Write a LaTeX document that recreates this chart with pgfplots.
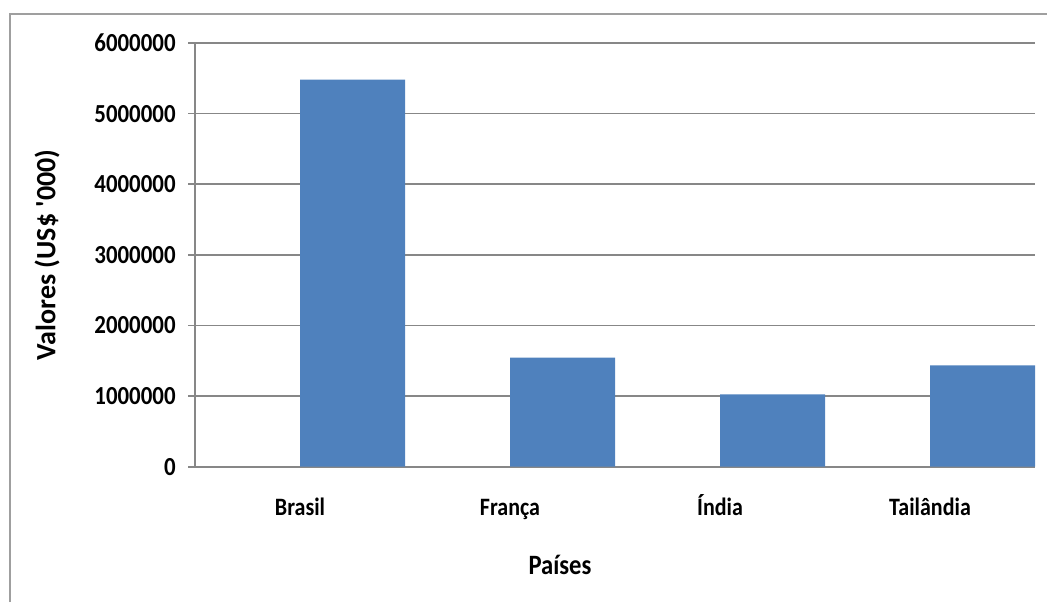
\documentclass[border=0pt]{standalone}
\usepackage{fontspec}
\setmainfont{Carlito}
\newfontfamily\condfont[FakeStretch=0.88]{Carlito}
\usepackage{pgfplots}
\pgfplotsset{compat=1.18}
\definecolor{excelblue}{HTML}{4F81BD}
\definecolor{gridgray}{HTML}{878787}
\begin{document}
\begin{tikzpicture}
\useasboundingbox (0,0) rectangle (523.5pt,301pt);
\draw[gridgray!80, line width=0.8pt] (5pt,0) -- (5pt,294pt) -- (523.5pt,294pt);
\begin{axis}[
  at={(97.5pt,67.65pt)}, anchor=south west,
  scale only axis, width=420pt, height=211.85pt,
  xmin=-0.5, xmax=3.5, ymin=0, ymax=6000000,
  ytick={0,1000000,2000000,3000000,4000000,5000000,6000000},
  scaled y ticks=false,
  /pgf/number format/.cd, 1000 sep={}, fixed, assume math mode=true, /pgfplots/.cd,
  xtick={0,1,2,3},
  xticklabels={Brasil,França,Índia,Tailândia},
  axis x line*=bottom, axis y line*=left,
  axis line style={gridgray, line width=0.8pt, -},
  ymajorgrids, grid style={gridgray, line width=0.8pt},
  tick align=outside, major tick length=3.5pt,
  y tick style={gridgray, line width=0.8pt},
  x tick style={draw=none},
  yticklabel style={font=\condfont\bfseries\fontsize{13}{15}\selectfont, inner sep=0pt, xshift=-6pt},
  xticklabel style={font=\condfont\bfseries\fontsize{12.5}{15}\selectfont, anchor=north, inner sep=0pt, text height=8.5pt, text depth=2.5pt, yshift=-12pt},
  xlabel={Países},
  ylabel={Valores (US\$ \textquotesingle 000)},
  xlabel style={font=\condfont\bfseries\fontsize{14}{16}\selectfont, at={(axis description cs:0.4345,-0.232)}, anchor=center},
  ylabel style={font=\bfseries\fontsize{14}{16}\selectfont, at={(axis description cs:-0.1762,0.5)}, anchor=center, rotate=0},
  clip=false,
]
\addplot[ybar, bar width=0.5, bar shift=0.25, fill=excelblue, draw=none]
  coordinates {(0,5480000) (1,1545000) (2,1025000) (3,1435000)};
\end{axis}
\end{tikzpicture}
\end{document}
